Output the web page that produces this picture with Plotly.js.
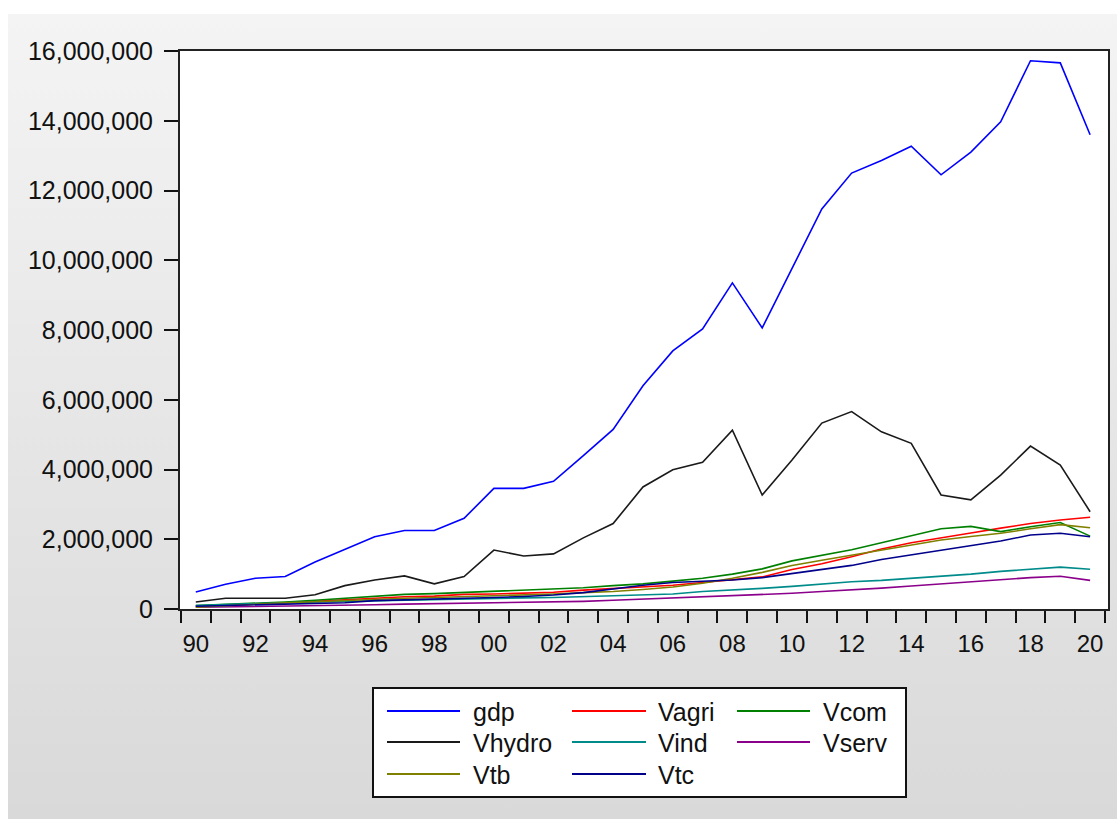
<!DOCTYPE html>
<html>
<head>
<meta charset="utf-8">
<script src="https://cdn.plot.ly/plotly-3.0.1.min.js"></script>
<style>
html,body{margin:0;padding:0;background:#ffffff;}
#bg{position:absolute;left:8px;top:14px;width:1109px;height:805px;background:linear-gradient(#f4f4f4,#d9d9d9);}
#chart{position:absolute;left:0;top:0;width:1117px;height:819px;}
</style>
</head>
<body>
<div id="bg"></div>
<div id="chart"></div>
<script>
// ---- data ----
const years = [1990,1991,1992,1993,1994,1995,1996,1997,1998,1999,2000,2001,2002,2003,2004,2005,
               2006,2007,2008,2009,2010,2011,2012,2013,2014,2015,2016,2017,2018,2019,2020];
const tickYears = [1990,1992,1994,1996,1998,2000,2002,2004,2006,2008,2010,2012,2014,2016,2018,2020];
const tickLabels = ['90','92','94','96','98','00','02','04','06','08','10','12','14','16','18','20'];
const yTicks = [0,2000000,4000000,6000000,8000000,10000000,12000000,14000000,16000000];

const gdp = [490000,710000,880000,930000,1350000,1720000,2070000,2250000,2250000,2600000,3460000,3460000,3660000,4400000,5150000,6400000,
             7400000,8030000,9350000,8060000,9750000,11470000,12500000,12860000,13270000,12450000,13100000,13970000,15720000,15660000,13600000];
const Vagri = [80000,100000,140000,180000,220000,280000,320000,350000,370000,420000,430000,460000,480000,540000,580000,620000,
               680000,760000,830000,920000,1130000,1300000,1500000,1720000,1900000,2050000,2180000,2320000,2450000,2550000,2630000];
const Vcom = [100000,130000,160000,200000,250000,300000,370000,420000,440000,470000,500000,540000,560000,610000,670000,720000,
              800000,880000,1000000,1150000,1380000,1530000,1700000,1900000,2100000,2300000,2370000,2220000,2360000,2480000,2090000];
const Vhydro = [200000,310000,310000,310000,410000,670000,830000,950000,720000,930000,1690000,1520000,1580000,2040000,2450000,3500000,
                3990000,4210000,5130000,3270000,4270000,5330000,5660000,5080000,4750000,3270000,3130000,3840000,4670000,4130000,2790000];
const Vind = [100000,130000,170000,180000,200000,220000,240000,260000,270000,290000,310000,320000,330000,360000,380000,400000,
              430000,500000,540000,590000,650000,720000,780000,820000,880000,930000,1000000,1080000,1140000,1200000,1140000];
const Vserv = [50000,60000,70000,70000,80000,100000,120000,140000,150000,170000,180000,180000,190000,220000,250000,280000,
               310000,340000,370000,410000,450000,500000,540000,600000,660000,720000,790000,850000,900000,940000,820000];
const Vtb = [50000,100000,140000,180000,210000,250000,280000,310000,330000,350000,380000,400000,430000,470000,500000,560000,
             630000,740000,880000,1050000,1250000,1400000,1550000,1700000,1850000,1980000,2080000,2170000,2300000,2420000,2330000];
const Vtc = [80000,100000,110000,120000,140000,180000,240000,260000,270000,310000,330000,360000,400000,470000,580000,680000,
             760000,800000,830000,900000,1020000,1120000,1250000,1420000,1550000,1680000,1820000,1950000,2120000,2170000,2070000];

const seriesNames = ['gdp','Vagri','Vcom','Vhydro','Vind','Vserv','Vtb','Vtc'];
const seriesValues = [gdp,Vagri,Vcom,Vhydro,Vind,Vserv,Vtb,Vtc];
const seriesColors = ['#0000ff','#ff0000','#008000','#1a1a1a','#008b8b','#8b008b','#808000','#00008b'];

// ---- geometry ----
const W = 1117, H = 819;
const M = {l:180, r:9, t:51, b:210};
const PW = W - M.l - M.r, PH = H - M.t - M.b;
const px = x => (x - M.l) / PW;
const py = y => (H - M.b - y) / PH;
const FONT = '"Liberation Sans", Arial, sans-serif';

// draw order: put gdp last so it stays on top is not needed; keep original order but hydro etc.
const traces = seriesNames.map((n,i) => ({
  type:'scatter', mode:'lines', name:n, x:years, y:seriesValues[i],
  line:{color:seriesColors[i], width:1.6}, showlegend:false, hoverinfo:'x+y+name'
}));

// custom legend (EViews style)
const shapes = [{
  type:'rect', xref:'paper', yref:'paper', x0:px(373), x1:px(906), y0:py(797), y1:py(688),
  line:{color:'#111', width:2}, fillcolor:'#ffffff', layer:'above'
}];
const annotations = [];
const colLine = [[387,460],[572,646],[737,810]];
const colText = [471,656,821];
const rowY = [711,742,774];
seriesNames.forEach((n,i) => {
  const r = Math.floor(i/3), c = i%3;
  shapes.push({type:'line', xref:'paper', yref:'paper', x0:px(colLine[c][0]), x1:px(colLine[c][1]),
               y0:py(rowY[r]), y1:py(rowY[r]), line:{color:seriesColors[i], width:2}, layer:'above'});
  annotations.push({xref:'paper', yref:'paper', x:px(colText[c]), y:py(rowY[r]+1), text:n, showarrow:false,
                    xanchor:'left', yanchor:'middle', font:{family:FONT, size:25, color:'#111'}});
});

const layout = {
  width:W, height:H,
  margin:M,
  paper_bgcolor:'rgba(0,0,0,0)',
  plot_bgcolor:'#ffffff',
  font:{family:FONT, size:24, color:'#111'},
  showlegend:false,
  xaxis:{
    range:[1989.47, 2020.6],
    tickmode:'array', tickvals:tickYears, ticktext:tickLabels,
    ticks:'outside', ticklen:12, tickcolor:'rgba(0,0,0,0)', tickwidth:2,
    tickfont:{family:FONT, size:24, color:'#111'},
    minor:{tickmode:'linear', tick0:1989.5, dtick:1, ticks:'outside', ticklen:12, tickwidth:2, tickcolor:'#111', showgrid:false},
    showline:true, linecolor:'#222', linewidth:2, mirror:true,
    showgrid:false, zeroline:false, fixedrange:true
  },
  yaxis:{
    range:[0,16000000],
    tickmode:'array', tickvals:yTicks, tickformat:',d',
    ticks:'outside', ticklen:14, tickwidth:2, tickcolor:'#111',
    tickfont:{family:FONT, size:25, color:'#111'},
    ticklabelstandoff:6,
    showline:true, linecolor:'#222', linewidth:2, mirror:true,
    showgrid:false, zeroline:false, fixedrange:true
  },
  shapes:shapes,
  annotations:annotations
};

Plotly.newPlot('chart', traces, layout, {displayModeBar:false, staticPlot:true});
</script>
</body>
</html>
